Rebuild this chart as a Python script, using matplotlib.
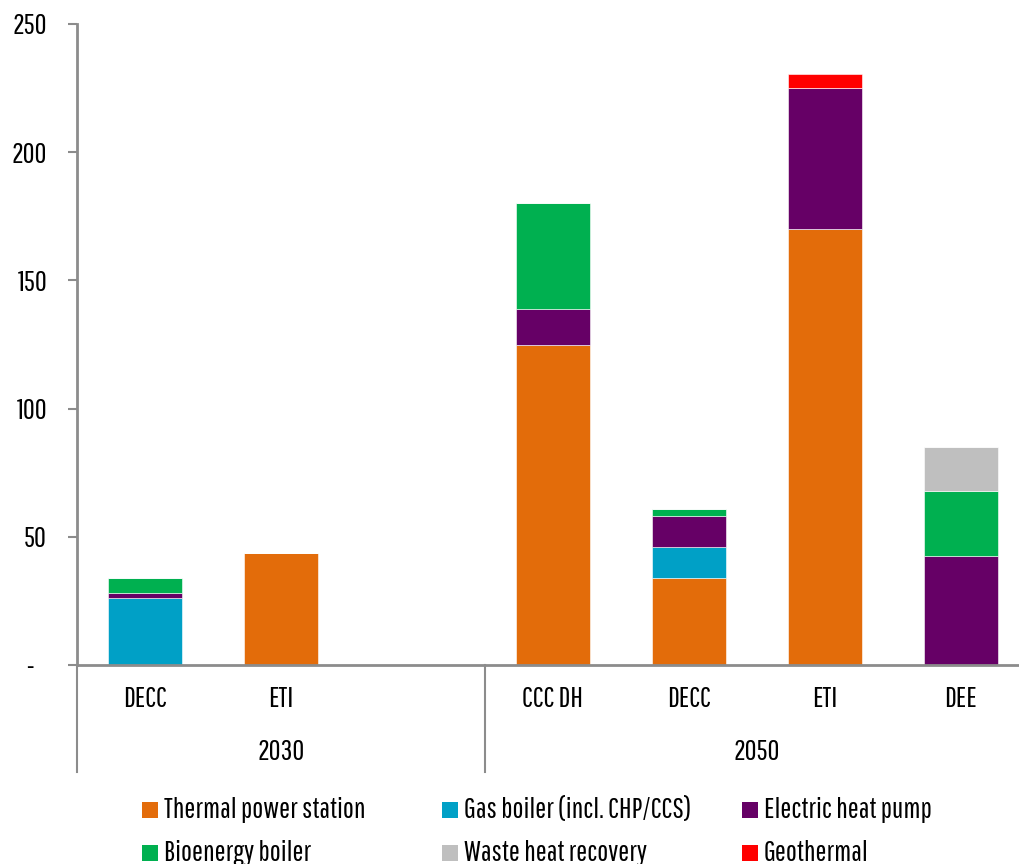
import matplotlib
matplotlib.use("Agg")
import matplotlib.pyplot as plt
from matplotlib.patches import Rectangle
import numpy as np
from matplotlib import font_manager

installed = {f.name for f in font_manager.fontManager.ttflist}
family = [f for f in ["Pathway Gothic One", "Antonio", "Sofia Sans Extra Condensed", "DejaVu Sans"] if f in installed]
plt.rcParams["font.family"] = family + ["DejaVu Sans"]

# Categories (empty slot separates the two years)
categories = ["DECC", "ETI", "", "CCC DH", "DECC", "ETI", "DEE"]
groups = ["2030", "2050"]
group_sizes = [3, 4]

series_names = ["Thermal power station", "Gas boiler (incl. CHP/CCS)", "Electric heat pump",
                "Bioenergy boiler", "Waste heat recovery", "Geothermal"]
thermal    = [0.0, 43.5, 0.0, 125.0, 34.0, 170.0, 0.0]
gas_boiler = [26.0, 0.0, 0.0, 0.0, 12.0, 0.0, 0.0]
heat_pump  = [2.0, 0.0, 0.0, 14.0, 12.0, 55.0, 42.5]
bioenergy  = [6.0, 0.0, 0.0, 41.0, 3.0, 0.0, 25.5]
waste_heat = [0.0, 0.0, 0.0, 0.0, 0.0, 0.0, 17.0]
geothermal = [0.0, 0.0, 0.0, 0.0, 0.0, 5.5, 0.0]
colors = ["#E36C0A", "#00A0C6", "#660066", "#00B050", "#BFBFBF", "#FF0000"]

yticks = [0, 50, 100, 150, 200, 250]
ytick_labels = ["-   ", "50", "100", "150", "200", "250"]

FS = 21
GRID = "#8C8C8C"

W, H = 1019, 864
fig = plt.figure(figsize=(W / 100, H / 100), dpi=100)
ax_left, ax_right = 77, 1029
ax_top, ax_bot = 24, 665
ax = fig.add_axes([ax_left / W, 1 - ax_bot / H, (ax_right - ax_left) / W, (ax_bot - ax_top) / H])

x = np.arange(len(categories))
bottom = np.zeros(len(categories))
data = [thermal, gas_boiler, heat_pump, bioenergy, waste_heat, geothermal]
for name, vals, c in zip(series_names, data, colors):
    vals = np.array(vals)
    ax.bar(x, vals, 0.55, bottom=bottom, color=c, edgecolor="white", linewidth=0.4, label=name)
    bottom += vals

ax.set_xlim(-0.5, len(categories) - 0.5)
ax.set_ylim(0, 250)
ax.set_yticks(yticks)
ax.set_yticklabels(ytick_labels, fontsize=FS)
ax.tick_params(axis="y", length=6.5, width=1.5, color=GRID, pad=15)
ax.set_xticks([])
for s in ["top", "right"]:
    ax.spines[s].set_visible(False)
for s in ["left", "bottom"]:
    ax.spines[s].set_color(GRID)
    ax.spines[s].set_linewidth(2)

# category labels and year groups below the axis
trans = ax.get_xaxis_transform()
span = ax_bot - ax_top
for xi, c in zip(x, categories):
    ax.text(xi, -(699 - ax_bot) / span, c, transform=trans, ha="center", va="center", fontsize=FS)
start = 0
for g, n in zip(groups, group_sizes):
    ax.text(start - 0.5 + n / 2, -(752 - ax_bot) / span, g, transform=trans,
            ha="center", va="center", fontsize=FS)
    start += n
for xs in [-0.5, 2.5]:
    ax.plot([xs, xs], [0, -(772 - ax_bot) / span], transform=trans,
            color=GRID, lw=1.5, clip_on=False)

# legend: three equal-width columns, two rows
col_x = [142, 442, 742]
row_y = [810, 853]
sq = 16
for i, (name, c) in enumerate(zip(series_names, colors)):
    r, k = divmod(i, 3)
    cx, cy = col_x[k], row_y[r]
    fig.patches.append(Rectangle((cx / W, 1 - (cy + sq / 2) / H), sq / W, sq / H,
                                 transform=fig.transFigure, facecolor=c, edgecolor="none"))
    fig.text((cx + sq + 6) / W, 1 - cy / H, name, ha="left", va="center", fontsize=FS)

fig.savefig("out.png", dpi=100)
